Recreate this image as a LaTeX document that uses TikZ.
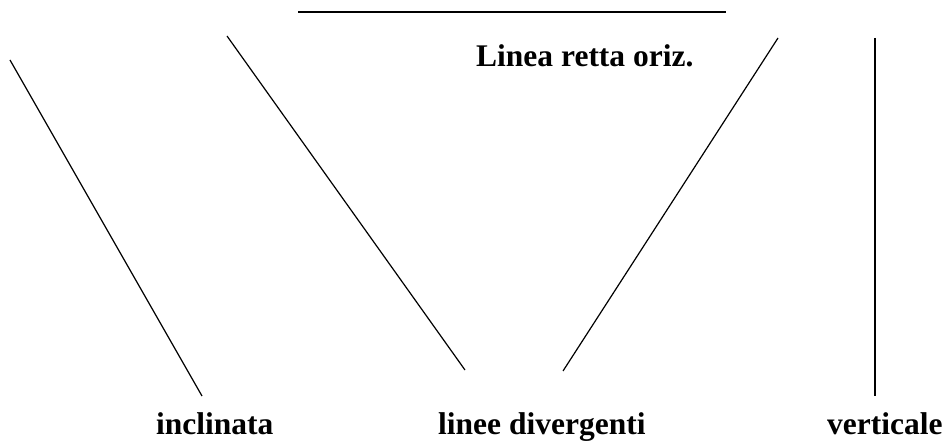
\documentclass[tikz,border=0pt]{standalone}
\usepackage{fontspec}
\setmainfont{Liberation Serif}
\begin{document}
\begin{tikzpicture}[x=1pt,y=-1pt,
  ln/.style={line width=1.2pt,black},
  lab/.style={font=\fontsize{31.5}{36}\selectfont\bfseries,inner sep=0pt,anchor=base west}]
\useasboundingbox (0,0) rectangle (946,441);
\coordinate (h1) at (298,12);
\coordinate (h2) at (726,12);
\coordinate (a1) at (10,60);
\coordinate (a2) at (202,396);
\coordinate (b1) at (227,36);
\coordinate (b2) at (465,370);
\coordinate (c1) at (778,38);
\coordinate (c2) at (563,371);
\coordinate (v1) at (875,38);
\coordinate (v2) at (875,396);
\draw[ln] (h1) -- (h2);
\draw[ln] (a1) -- (a2);
\draw[ln] (b1) -- (b2);
\draw[ln] (c1) -- (c2);
\draw[ln] (v1) -- (v2);
\node[lab] (t1) at (476,67) {Linea retta oriz.};
\node[lab] (t2) at (156,434) {inclinata};
\node[lab] (t3) at (438,434) {linee divergenti};
\node[lab] (t4) at (827,434) {verticale};
\end{tikzpicture}
\end{document}
